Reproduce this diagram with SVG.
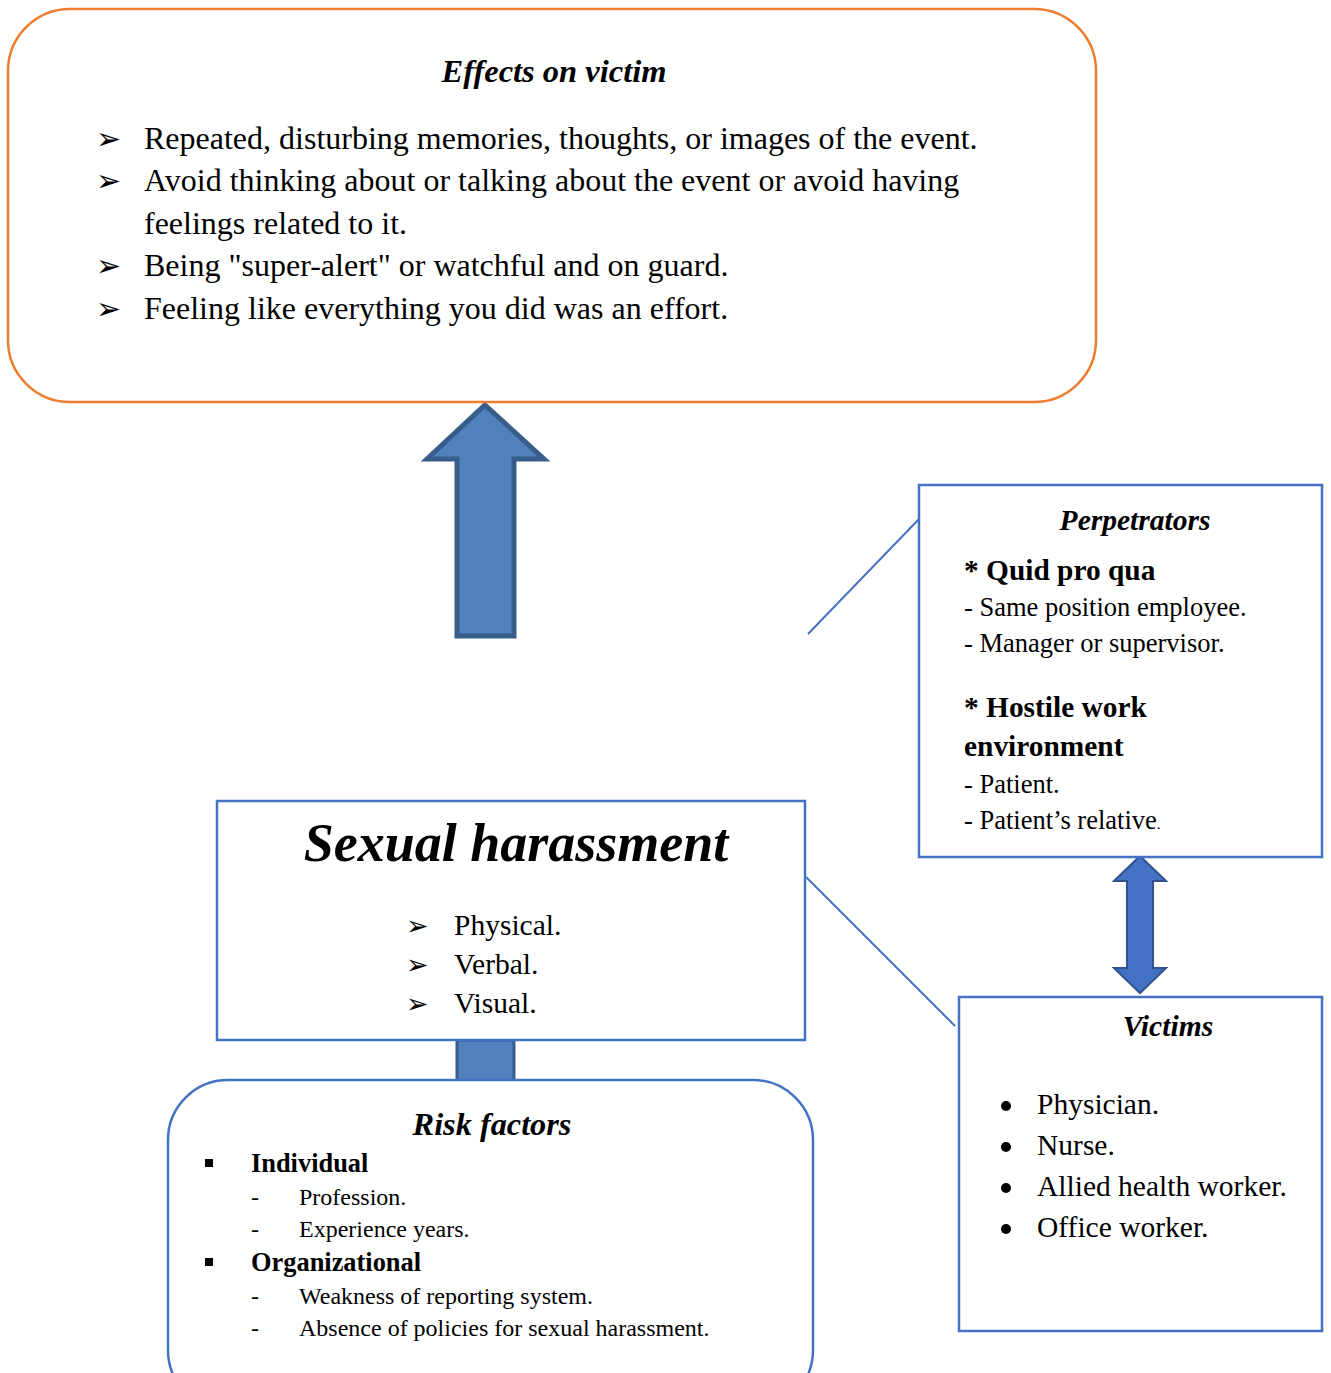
<svg xmlns="http://www.w3.org/2000/svg" width="1331" height="1373" viewBox="0 0 1331 1373">
<style>
text{font-family:"Liberation Serif","Times New Roman",serif;fill:#000}
.ttl{font-weight:bold;font-style:italic}
.b{font-weight:bold}
.sym{font-family:"DejaVu Sans",sans-serif}
.box{fill:#fff;stroke:#4472C4;stroke-width:2.5}
.conn{stroke:#4472C4;stroke-width:2;fill:none}
.big{fill:#4F81BD;stroke:#385D8A;stroke-width:5}
</style>
<rect width="1331" height="1373" fill="#fff"/>
<g id="connectors">
<line class="conn" x1="808" y1="634" x2="919" y2="519"/>
<line class="conn" x1="806" y1="877" x2="955" y2="1026"/>
<polygon class="big" points="485,405 544,459 514,459 514,636 457,636 457,459 427,459"/>
<rect x="457" y="1040" width="57" height="42" fill="#4F81BD" stroke="#385D8A" stroke-width="3"/>
<polygon fill="#4472C4" stroke="#2F528F" stroke-width="2" points="1140,856 1166,881 1153,881 1153,968 1166,968 1140,993 1114,968 1127,968 1127,881 1114,881"/>
</g>
<g id="effects">
<rect x="8" y="9" width="1088" height="393" rx="62" ry="62" fill="#fff" stroke="#ED7D31" stroke-width="2.5"/>
<text class="ttl" x="554" y="82" font-size="32.5" text-anchor="middle">Effects on victim</text>
<g font-size="32">
<text class="sym" x="96" y="149" font-size="30">➢</text>
<text x="144" y="149">Repeated, disturbing memories, thoughts, or images of the event.</text>
<text class="sym" x="96" y="191" font-size="30">➢</text>
<text x="144" y="191">Avoid thinking about or talking about the event or avoid having</text>
<text x="144" y="234">feelings related to it.</text>
<text class="sym" x="96" y="276" font-size="30">➢</text>
<text x="144" y="276">Being "super-alert" or watchful and on guard.</text>
<text class="sym" x="96" y="319" font-size="30">➢</text>
<text x="144" y="319">Feeling like everything you did was an effort.</text>
</g>
</g>
<g id="perpetrators">
<rect class="box" x="919" y="485" width="403" height="372"/>
<text class="ttl" x="1135" y="530" font-size="29.5" text-anchor="middle">Perpetrators</text>
<text class="b" x="964" y="580" font-size="29.4">* Quid pro qua</text>
<text x="964" y="616" font-size="26.5">- Same position employee.</text>
<text x="964" y="652" font-size="26.5">- Manager or supervisor.</text>
<text class="b" x="964" y="717" font-size="29.4">* Hostile work</text>
<text class="b" x="964" y="756" font-size="29.4">environment</text>
<text x="964" y="793" font-size="26.5">- Patient.</text>
<text x="964" y="829" font-size="26.5">- Patient’s relative<tspan font-size="15">.</tspan></text>
</g>
<g id="victims">
<rect class="box" x="959" y="997" width="363" height="334"/>
<text class="ttl" x="1168" y="1036" font-size="29.6" text-anchor="middle">Victims</text>
<g font-size="29.5">
<circle cx="1006" cy="1106" r="5"/>
<text x="1037" y="1114">Physician.</text>
<circle cx="1006" cy="1147" r="5"/>
<text x="1037" y="1155">Nurse.</text>
<circle cx="1006" cy="1188" r="5"/>
<text x="1037" y="1196">Allied health worker.</text>
<circle cx="1006" cy="1229" r="5"/>
<text x="1037" y="1237">Office worker.</text>
</g>
</g>
<g id="sexual-harassment">
<rect class="box" x="217" y="801" width="588" height="239"/>
<text class="ttl" x="516" y="861" font-size="54" text-anchor="middle">Sexual harassment</text>
<g font-size="29.5">
<text class="sym" x="406" y="935" font-size="27">➢</text>
<text x="454" y="935">Physical.</text>
<text class="sym" x="406" y="974" font-size="27">➢</text>
<text x="454" y="974">Verbal.</text>
<text class="sym" x="406" y="1013" font-size="27">➢</text>
<text x="454" y="1013">Visual.</text>
</g>
</g>
<g id="risk-factors">
<rect x="168" y="1080" width="645" height="330" rx="60" ry="60" fill="#fff" stroke="#4472C4" stroke-width="2.5"/>
<text class="ttl" x="492" y="1135" font-size="32.3" text-anchor="middle">Risk factors</text>
<rect x="205" y="1159" width="8" height="8"/>
<text class="b" x="251" y="1172" font-size="26.4">Individual</text>
<text x="251" y="1205" font-size="24">-</text>
<text x="299" y="1205" font-size="24">Profession.</text>
<text x="251" y="1237" font-size="24">-</text>
<text x="299" y="1237" font-size="24">Experience years.</text>
<rect x="205" y="1258" width="8" height="8"/>
<text class="b" x="251" y="1271" font-size="26.4">Organizational</text>
<text x="251" y="1304" font-size="24">-</text>
<text x="299" y="1304" font-size="24">Weakness of reporting system.</text>
<text x="251" y="1336" font-size="24">-</text>
<text x="299" y="1336" font-size="24">Absence of policies for sexual harassment.</text>
</g>
</svg>
